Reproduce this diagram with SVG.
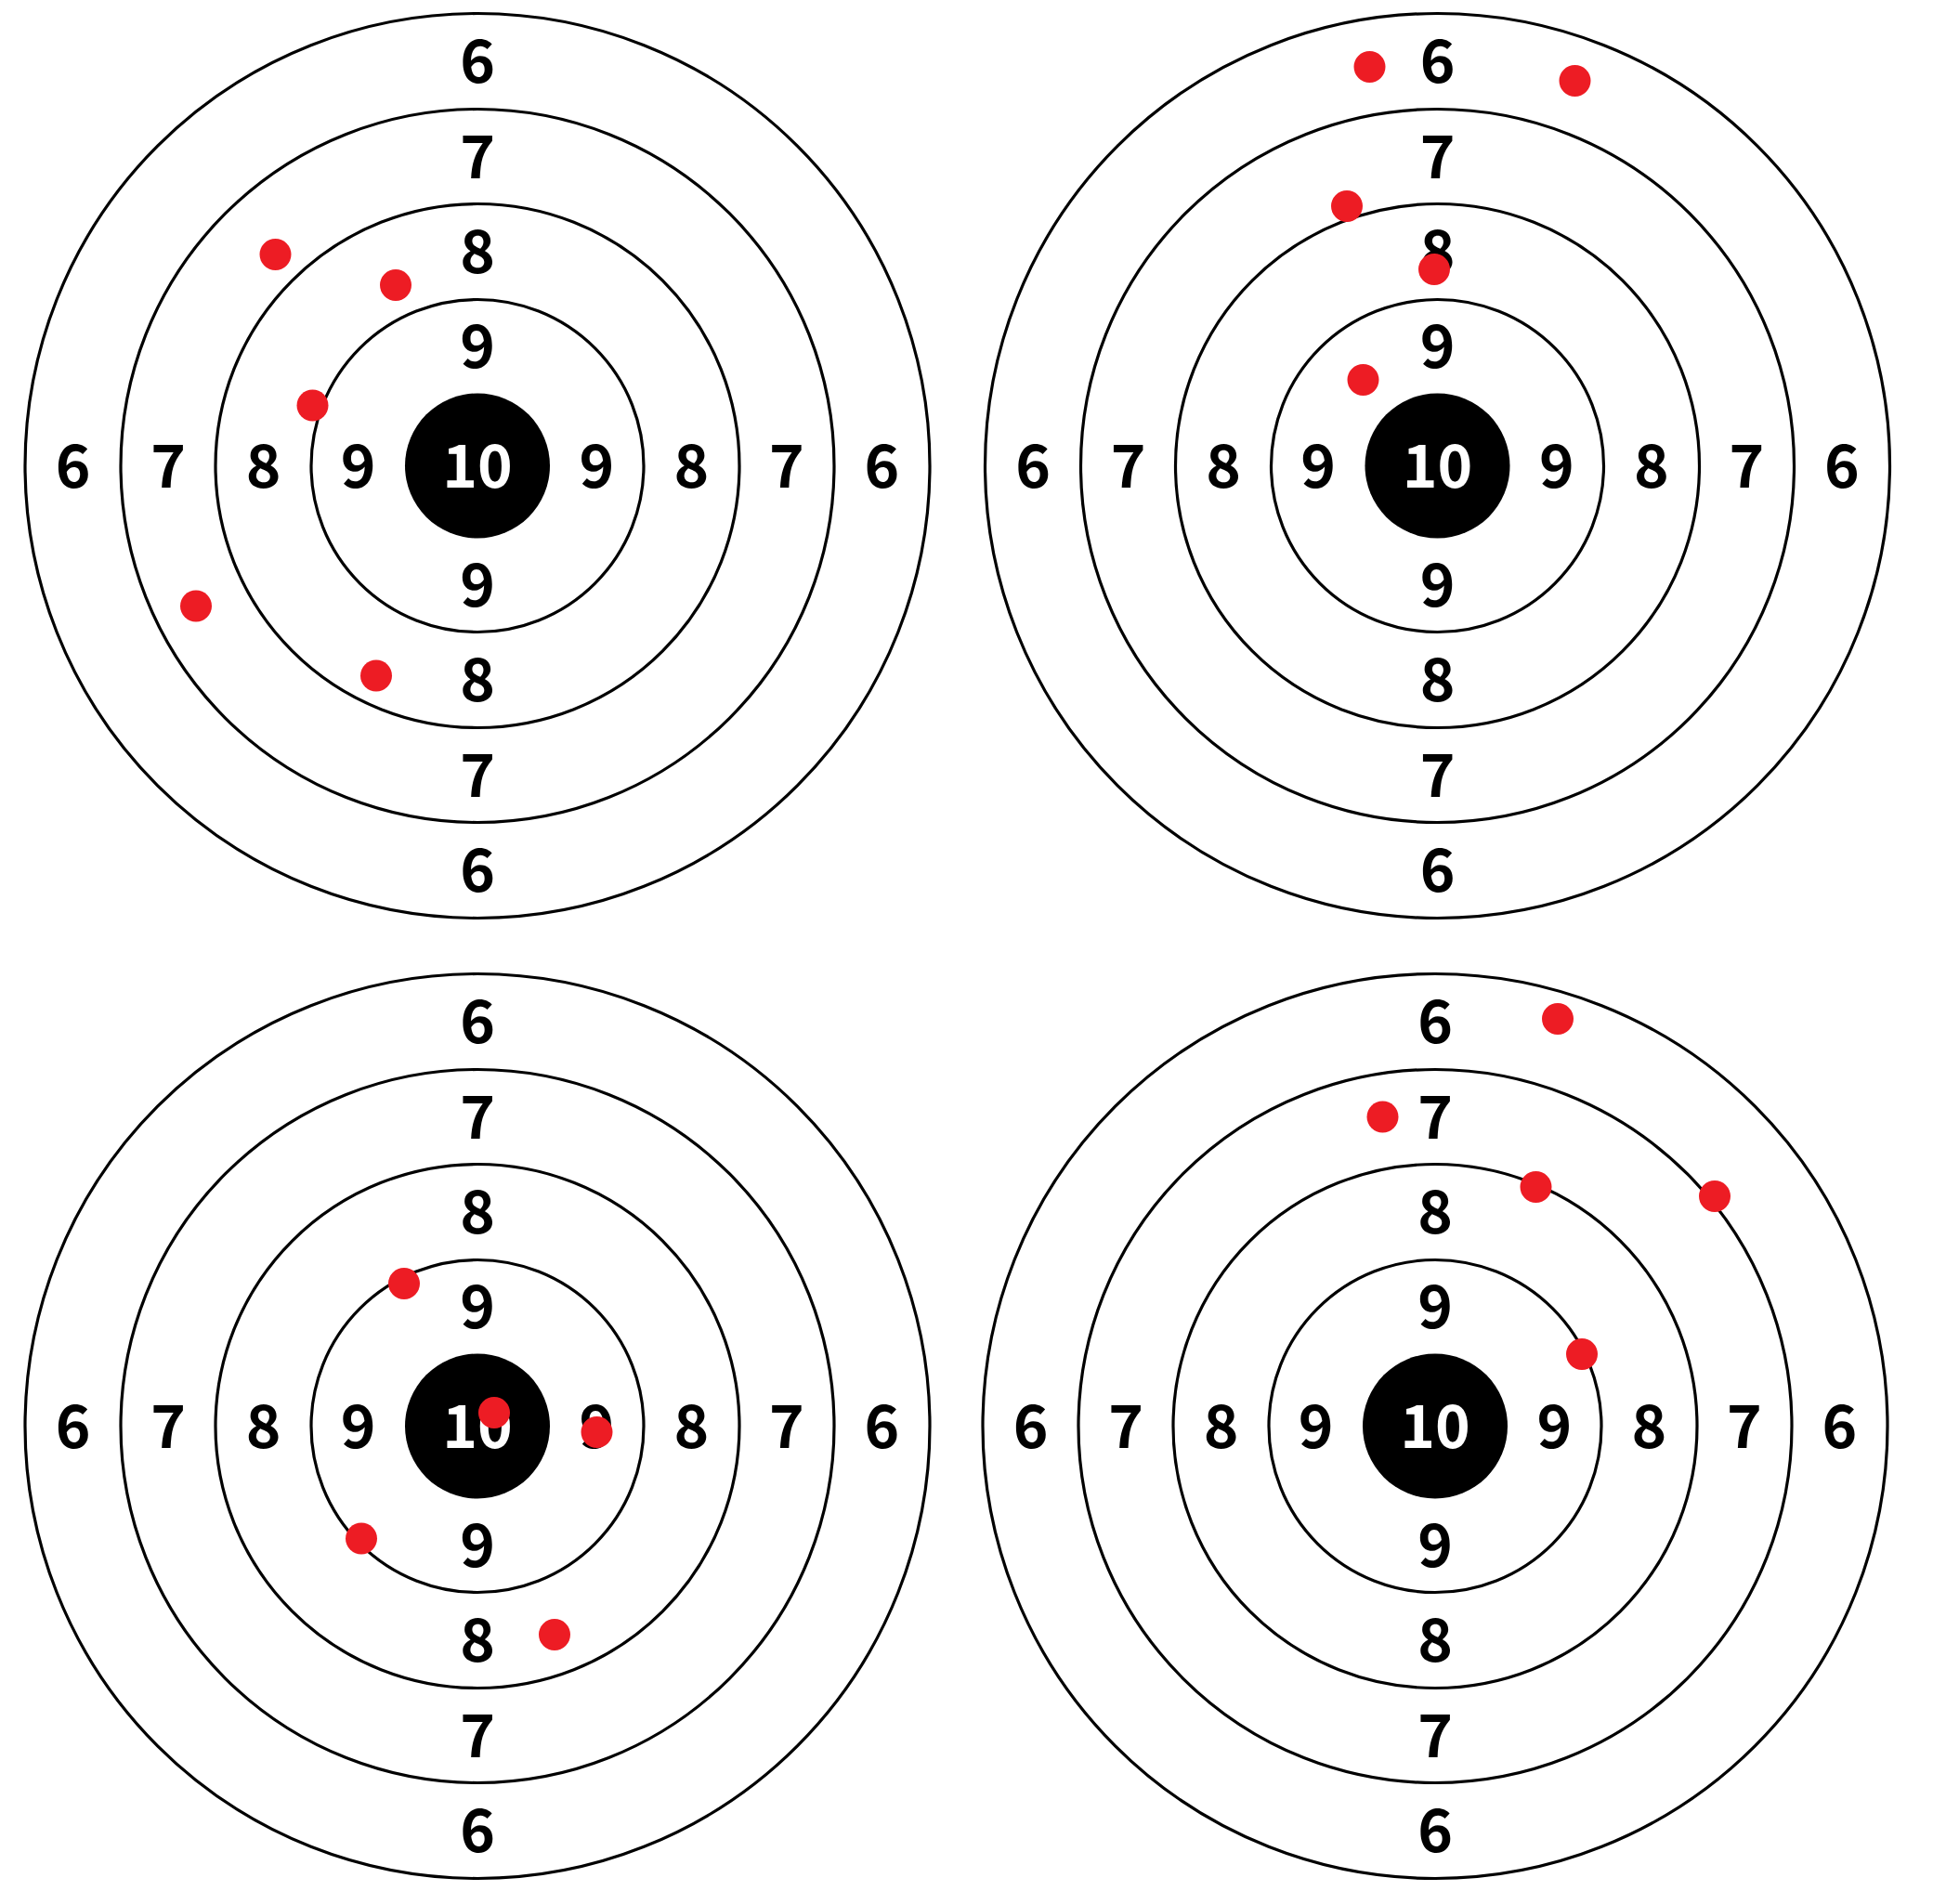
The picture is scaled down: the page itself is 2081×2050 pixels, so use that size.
<svg xmlns="http://www.w3.org/2000/svg" width="2081" height="2050" viewBox="0 0 2081 2050">
<style>
.ring{fill:none;stroke:#000;stroke-width:3.2}
.bull{fill:#000}
.lbl{font-family:"Noto Sans CJK KR","Noto Sans","DejaVu Sans",sans-serif;font-weight:700;font-size:64px;text-anchor:middle;fill:#000}
.w{fill:#fff}
.hit{fill:#ED1C24}
</style>
<rect x="0" y="0" width="2081" height="2050" fill="#fff"/>
<defs>
<g id="face">
<circle class="ring" r="487"/>
<circle class="ring" r="384"/>
<circle class="ring" r="282"/>
<circle class="ring" r="179"/>
<circle class="bull" r="78"/>
</g>
</defs>

<g id="target-1" transform="translate(514,501.5)">
<use href="#face"/>
<text class="lbl w" x="0" y="23">10</text>
<text class="lbl" x="0" y="-412.5">6</text>
<text class="lbl" x="0" y="-310">7</text>
<text class="lbl" x="0" y="-207.5">8</text>
<text class="lbl" x="0" y="-105.5">9</text>
<text class="lbl" x="0" y="151.5">9</text>
<text class="lbl" x="0" y="253.5">8</text>
<text class="lbl" x="0" y="356">7</text>
<text class="lbl" x="0" y="458.5">6</text>
<text class="lbl" x="-435.5" y="23">6</text>
<text class="lbl" x="-333" y="23">7</text>
<text class="lbl" x="-230.5" y="23">8</text>
<text class="lbl" x="-128.5" y="23">9</text>
<text class="lbl" x="128.5" y="23">9</text>
<text class="lbl" x="230.5" y="23">8</text>
<text class="lbl" x="333" y="23">7</text>
<text class="lbl" x="435.5" y="23">6</text>
</g>

<g id="target-2" transform="translate(1547.5,501.5)">
<use href="#face"/>
<text class="lbl w" x="0" y="23">10</text>
<text class="lbl" x="0" y="-412.5">6</text>
<text class="lbl" x="0" y="-310">7</text>
<text class="lbl" x="0" y="-207.5">8</text>
<text class="lbl" x="0" y="-105.5">9</text>
<text class="lbl" x="0" y="151.5">9</text>
<text class="lbl" x="0" y="253.5">8</text>
<text class="lbl" x="0" y="356">7</text>
<text class="lbl" x="0" y="458.5">6</text>
<text class="lbl" x="-435.5" y="23">6</text>
<text class="lbl" x="-333" y="23">7</text>
<text class="lbl" x="-230.5" y="23">8</text>
<text class="lbl" x="-128.5" y="23">9</text>
<text class="lbl" x="128.5" y="23">9</text>
<text class="lbl" x="230.5" y="23">8</text>
<text class="lbl" x="333" y="23">7</text>
<text class="lbl" x="435.5" y="23">6</text>
</g>

<g id="target-3" transform="translate(514,1535.5)">
<use href="#face"/>
<text class="lbl w" x="0" y="23">10</text>
<text class="lbl" x="0" y="-412.5">6</text>
<text class="lbl" x="0" y="-310">7</text>
<text class="lbl" x="0" y="-207.5">8</text>
<text class="lbl" x="0" y="-105.5">9</text>
<text class="lbl" x="0" y="151.5">9</text>
<text class="lbl" x="0" y="253.5">8</text>
<text class="lbl" x="0" y="356">7</text>
<text class="lbl" x="0" y="458.5">6</text>
<text class="lbl" x="-435.5" y="23">6</text>
<text class="lbl" x="-333" y="23">7</text>
<text class="lbl" x="-230.5" y="23">8</text>
<text class="lbl" x="-128.5" y="23">9</text>
<text class="lbl" x="128.5" y="23">9</text>
<text class="lbl" x="230.5" y="23">8</text>
<text class="lbl" x="333" y="23">7</text>
<text class="lbl" x="435.5" y="23">6</text>
</g>

<g id="target-4" transform="translate(1545,1535.5)">
<use href="#face"/>
<text class="lbl w" x="0" y="23">10</text>
<text class="lbl" x="0" y="-412.5">6</text>
<text class="lbl" x="0" y="-310">7</text>
<text class="lbl" x="0" y="-207.5">8</text>
<text class="lbl" x="0" y="-105.5">9</text>
<text class="lbl" x="0" y="151.5">9</text>
<text class="lbl" x="0" y="253.5">8</text>
<text class="lbl" x="0" y="356">7</text>
<text class="lbl" x="0" y="458.5">6</text>
<text class="lbl" x="-435.5" y="23">6</text>
<text class="lbl" x="-333" y="23">7</text>
<text class="lbl" x="-230.5" y="23">8</text>
<text class="lbl" x="-128.5" y="23">9</text>
<text class="lbl" x="128.5" y="23">9</text>
<text class="lbl" x="230.5" y="23">8</text>
<text class="lbl" x="333" y="23">7</text>
<text class="lbl" x="435.5" y="23">6</text>
</g>

<g id="hits-1">
<circle class="hit" cx="296.5" cy="274" r="17"/>
<circle class="hit" cx="426" cy="307" r="17"/>
<circle class="hit" cx="336.5" cy="436.5" r="17"/>
<circle class="hit" cx="211" cy="652.5" r="17"/>
<circle class="hit" cx="405" cy="727.5" r="17"/>
</g>
<g id="hits-2">
<circle class="hit" cx="1474.5" cy="72" r="17"/>
<circle class="hit" cx="1695.5" cy="87" r="17"/>
<circle class="hit" cx="1450" cy="222" r="17"/>
<circle class="hit" cx="1544" cy="290" r="17"/>
<circle class="hit" cx="1467.5" cy="409" r="17"/>
</g>
<g id="hits-3">
<circle class="hit" cx="435" cy="1382" r="17"/>
<circle class="hit" cx="532" cy="1521" r="17"/>
<circle class="hit" cx="642.5" cy="1542" r="17"/>
<circle class="hit" cx="389" cy="1656.5" r="17"/>
<circle class="hit" cx="597" cy="1760" r="17"/>
</g>
<g id="hits-4">
<circle class="hit" cx="1677" cy="1097" r="17"/>
<circle class="hit" cx="1488.5" cy="1202.5" r="17"/>
<circle class="hit" cx="1653.5" cy="1278" r="17"/>
<circle class="hit" cx="1846" cy="1288" r="17"/>
<circle class="hit" cx="1703" cy="1458" r="17"/>
</g>
</svg>
